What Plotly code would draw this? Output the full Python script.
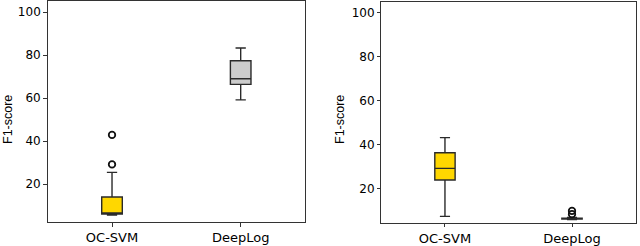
import plotly.graph_objects as go

categories = ["OC-SVM", "DeepLog"]
positions = [1, 2]

# Left panel box statistics (OC-SVM, DeepLog)
left_q1 = [6.1, 66.4]
left_median = [6.3, 69.0]
left_q3 = [14.0, 77.4]
left_low = [5.6, 59.2]
left_high = [25.5, 83.3]
left_outliers_x = [1, 1]
left_outliers_y = [29.2, 42.9]

# Right panel box statistics
right_q1 = [23.8, 6.1]
right_median = [29.1, 6.3]
right_q3 = [36.2, 6.5]
right_low = [7.3, 5.9]
right_high = [43.1, 6.8]
right_outliers_x = [2, 2]
right_outliers_y = [8.3, 9.8]

fill_colors = ["#FFD700", "#CCCCCC"]
right_fill_colors = ["#FFD700", "#CCCCCC"]

fig = go.Figure()

def add_boxes(q1, med, q3, lo, hi, fills, xa, ya):
    for i in range(len(positions)):
        fig.add_trace(go.Box(
            x=[positions[i]], q1=[q1[i]], median=[med[i]], q3=[q3[i]],
            lowerfence=[lo[i]], upperfence=[hi[i]],
            width=0.16, whiskerwidth=0.5, fillcolor=fills[i],
            line=dict(color="#2a2a2a", width=1.4),
            boxpoints=False, showlegend=False, xaxis=xa, yaxis=ya))

add_boxes(left_q1, left_median, left_q3, left_low, left_high, fill_colors, "x", "y")
add_boxes(right_q1, right_median, right_q3, right_low, right_high, right_fill_colors, "x2", "y2")

for xs, ys, xa, ya in [(left_outliers_x, left_outliers_y, "x", "y"),
                       (right_outliers_x, right_outliers_y, "x2", "y2")]:
    fig.add_trace(go.Scatter(
        x=xs, y=ys, mode="markers", xaxis=xa, yaxis=ya, showlegend=False,
        marker=dict(symbol="circle-open", size=6.5, color="#111111", line=dict(width=1.8))))

axis_common = dict(showgrid=False, zeroline=False, showline=True, mirror=True,
                   linecolor="#333333", linewidth=1, ticks="outside", ticklen=3.5,
                   tickcolor="#333333", tickwidth=1)

xfont = dict(family="DejaVu Sans", size=13, color="#000000")
yfont = dict(family="DejaVu Sans", size=12, color="#000000")

fig.update_layout(
    width=640, height=246, margin=dict(l=0, r=0, t=0, b=0),
    plot_bgcolor="white", paper_bgcolor="white",
    xaxis=dict(domain=[0.0745, 0.4766], range=[0.5, 2.5], tickvals=positions,
               ticktext=categories, tickfont=xfont, anchor="y", **axis_common),
    yaxis=dict(domain=[0.0711, 0.9959], range=[2.4, 105.2], tickvals=[20, 40, 60, 80, 100],
               tickfont=yfont, anchor="x", **axis_common),
    xaxis2=dict(domain=[0.596, 0.993], range=[0.5, 2.5], tickvals=positions,
                ticktext=categories, tickfont=xfont, anchor="y2", **axis_common),
    yaxis2=dict(domain=[0.0679, 0.993], range=[4.4, 104.85], tickvals=[20, 40, 60, 80, 100],
                tickfont=yfont, anchor="x2", **axis_common),
)

for xpos in [7.5 / 640, 339.5 / 640]:
    fig.add_annotation(text="F1-score", x=xpos, y=0.5, xref="paper", yref="paper",
                       textangle=-90, showarrow=False, xanchor="center", yanchor="middle",
                       font=dict(family="Liberation Sans", size=12.5, color="#000000"))

fig.write_html("out.html", config={"displayModeBar": False},
               post_script="document.body.style.margin='0';document.body.style.overflow='hidden';")
